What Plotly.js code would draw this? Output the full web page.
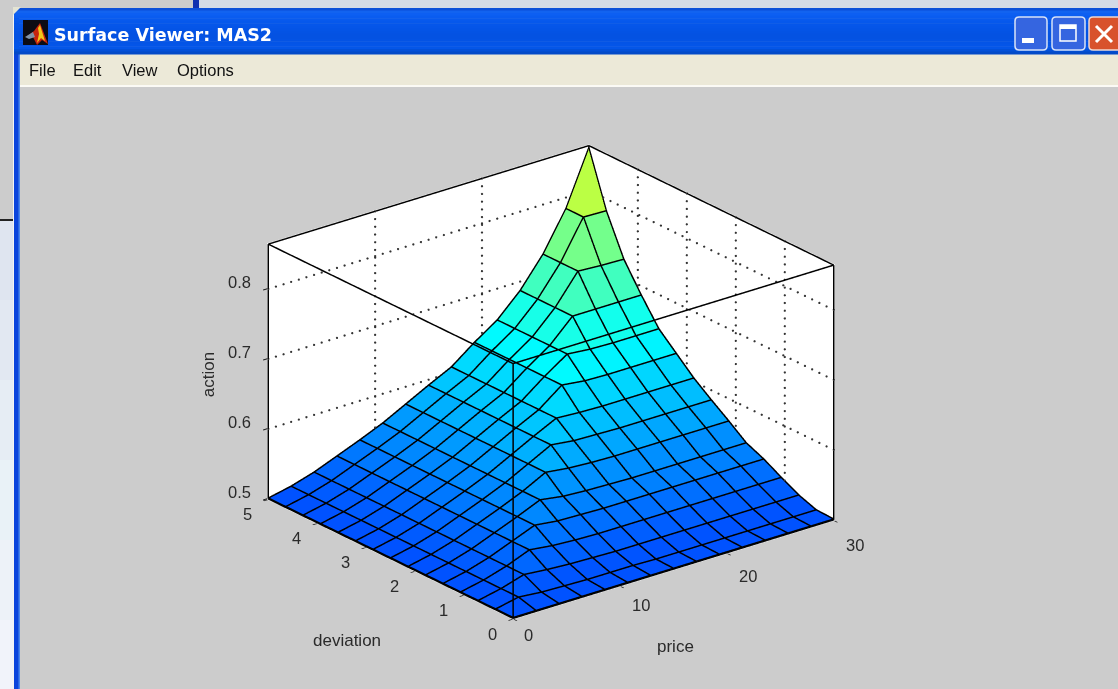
<!DOCTYPE html>
<html><head><meta charset="utf-8">
<script src="https://cdn.plot.ly/plotly-3.0.1.min.js"></script>
<style>html,body{margin:0;padding:0;background:#ccc;overflow:hidden}#g{width:1118px;height:689px}</style>
</head><body><div id="g"></div>
<script>
const price=[0,2.14,4.29,6.43,8.57,10.71,12.86,15,17.14,19.29,21.43,23.57,25.71,27.86,30];
const deviation=[0,.357,.714,1.071,1.429,1.786,2.143,2.5,2.857,3.214,3.571,3.929,4.286,4.643,5];
// action: rows = deviation, columns = price
const action=[
[.500,.500,.500,.500,.500,.500,.500,.500,.500,.500,.500,.500,.500,.500,.500],
[.500,.507,.504,.503,.502,.502,.502,.501,.501,.501,.501,.501,.501,.501,.501],
[.500,.507,.517,.514,.512,.511,.510,.510,.510,.510,.510,.510,.510,.510,.510],
[.500,.507,.517,.530,.526,.524,.523,.523,.523,.523,.523,.523,.523,.523,.523],
[.500,.507,.517,.530,.543,.539,.538,.537,.537,.537,.537,.537,.537,.537,.537],
[.500,.507,.517,.530,.543,.557,.552,.550,.549,.548,.548,.548,.548,.548,.548],
[.500,.507,.517,.530,.543,.557,.574,.570,.568,.567,.567,.567,.567,.567,.567],
[.500,.507,.517,.530,.543,.557,.574,.591,.587,.586,.585,.585,.585,.585,.585],
[.500,.507,.517,.530,.543,.557,.574,.591,.607,.605,.604,.604,.604,.604,.604],
[.500,.507,.517,.530,.543,.557,.574,.591,.607,.632,.628,.627,.627,.627,.627],
[.500,.507,.517,.530,.543,.557,.574,.591,.607,.632,.654,.651,.650,.650,.650],
[.500,.507,.517,.530,.543,.557,.574,.591,.607,.632,.654,.686,.686,.686,.686],
[.500,.507,.517,.530,.543,.557,.574,.591,.607,.632,.654,.686,.728,.726,.725],
[.500,.507,.517,.530,.543,.557,.574,.591,.607,.632,.654,.686,.728,.783,.782],
[.500,.507,.517,.530,.543,.557,.574,.591,.607,.632,.654,.686,.728,.783,.860]];
const priceTicks=[0,10,20,30], deviationTicks=[0,1,2,3,4,5], actionTicks=[.5,.6,.7,.8];
const zMin=.5, zMax=.864;

function jet(v){ // MATLAB jet ramp
  const c=t=>Math.max(0,Math.min(1,t));
  return 'rgb('+[c(1.5-Math.abs(4*v-3)),c(1.5-Math.abs(4*v-2)),c(1.5-Math.abs(4*v-1))].map(q=>Math.round(q*255)).join(',')+')';
}
const colourLow=.205, colourHigh=.66;
const n=price.length;
const vx=[],vy=[],vz=[],I=[],J=[],K=[],FC=[];
for(let r=0;r<n;r++)for(let c=0;c<n;c++){vx.push(price[c]);vy.push(deviation[r]);vz.push(action[r][c]);}
for(let r=0;r<n-1;r++)for(let c=0;c<n-1;c++){
  const a=r*n+c,b=a+1,d=a+n,e=d+1;
  const col=jet(colourLow+(action[r][c]-zMin)/(zMax-zMin)*(colourHigh-colourLow));
  I.push(a,a);J.push(b,e);K.push(e,d);FC.push(col,col);
}
const lx=[],ly=[],lz=[];
const lift=.0012;
for(let r=0;r<n;r++){for(let c=0;c<n;c++){lx.push(price[c]);ly.push(deviation[r]);lz.push(action[r][c]+lift);}lx.push(null);ly.push(null);lz.push(null);}
for(let c=0;c<n;c++){for(let r=0;r<n;r++){lx.push(price[c]);ly.push(deviation[r]);lz.push(action[r][c]+lift);}lx.push(null);ly.push(null);lz.push(null);}

// box edges
const bx=[],by=[],bz=[];
function seg(a,b,arrX,arrY,arrZ){arrX.push(a[0],b[0],null);arrY.push(a[1],b[1],null);arrZ.push(a[2],b[2],null);}
const X1=30,Y1=5;
[[[0,0,zMax],[X1,0,zMax]],[[0,0,zMax],[0,Y1,zMax]],[[X1,0,zMax],[X1,Y1,zMax]],[[0,Y1,zMax],[X1,Y1,zMax]],
 [[0,0,zMin],[0,0,zMax]],[[X1,0,zMin],[X1,0,zMax]],[[0,Y1,zMin],[0,Y1,zMax]],[[X1,Y1,zMin],[X1,Y1,zMax]],
 [[0,0,zMin],[X1,0,zMin]],[[0,0,zMin],[0,Y1,zMin]]].forEach(s=>seg(s[0],s[1],bx,by,bz));

// dotted grid on the back walls, one small marker per dot
const gx=[],gy=[],gz=[];
function dots(a,b,count){for(let k=0;k<=count;k++){const t=k/count;gx.push(a[0]+(b[0]-a[0])*t);gy.push(a[1]+(b[1]-a[1])*t);gz.push(a[2]+(b[2]-a[2])*t);}}
priceTicks.slice(1,-1).forEach(p=>dots([p,Y1,zMin],[p,Y1,zMax],33));
deviationTicks.slice(1,-1).forEach(d=>dots([X1,d,zMin],[X1,d,zMax],33));
actionTicks.slice(1).forEach(a=>{dots([0,Y1,a],[X1,Y1,a],42);dots([X1,0,a],[X1,Y1,a],34);});

const W=1118,H=689;
const px=x=>x/W, py=y=>1-y/H;
function rect(x0,y0,x1,y1,fill,layer){return {type:'rect',xref:'paper',yref:'paper',x0:px(x0),x1:px(x1),y0:py(y0),y1:py(y1),fillcolor:fill,line:{width:0},layer:layer||'below'};}
function pathShape(pts,fill){return {type:'path',xref:'paper',yref:'paper',path:'M'+pts.map(p=>px(p[0])+','+py(p[1])).join('L')+'Z',fillcolor:fill,line:{width:0},layer:'below'};}
function rounded(x0,y0,x1,y1,r,fill,lineCol,lw){
  const P=(x,y)=>px(x)+','+py(y);
  return {type:'path',xref:'paper',yref:'paper',layer:'above',fillcolor:fill,line:{color:lineCol,width:lw},
   path:'M'+P(x0+r,y0)+'L'+P(x1-r,y0)+'Q'+P(x1,y0)+' '+P(x1,y0+r)+'L'+P(x1,y1-r)+'Q'+P(x1,y1)+' '+P(x1-r,y1)+'L'+P(x0+r,y1)+'Q'+P(x0,y1)+' '+P(x0,y1-r)+'L'+P(x0,y0+r)+'Q'+P(x0,y0)+' '+P(x0+r,y0)+'Z'};
}
const titleBarColours=['#0b4fd8','#1263f0','#0d5ff2','#0a5cf0','#085aee','#0658ec','#0556ea','#0555e8','#0454e6','#0453e4','#0452e2','#0452e2','#0453e4','#0454e6','#0455e8','#0456e8','#0350d8','#034ac8'];
const leftStrip=[[221,300,'#dfe5f0'],[300,380,'#e2e8f2'],[380,460,'#e6edf4'],[460,540,'#e9f2f7'],[540,620,'#edf2f8'],[620,689,'#f1f3fa']];
const shapes=[
 rect(0,0,193,8,'#cccccc'),rect(193,0,199,8,'#1030b0'),rect(199,0,1118,8,'#d4dae6'),
 rect(0,8,13,220,'#cccccc'),rect(0,219,13,221,'#222222'),
 rect(13,8,14,689,'#f4f4f4'),rect(14,8,19,689,'#0a44dc'),rect(18.5,54,20,689,'#4a86ea'),rect(20,54,1118,86,'#ece9d8'),rect(20,85,1118,87,'#fbfaf5')
];
leftStrip.forEach(s=>shapes.push(rect(0,s[0],13,s[1],s[2])));
titleBarColours.forEach((c,i)=>{const h=(54-8)/titleBarColours.length;shapes.push(rect(14,8+i*h,1118,8+(i+1)*h+.5,c));});
shapes.push(pathShape([[13,7],[21,7],[13,15]],'#e4e4d4'));
// window icon
shapes.push(rect(23,20,48,45,'#0c0c14'));
shapes.push(pathShape([[26,37],[34,31],[40,23],[48,44],[42,40],[37,45],[33,37]],'#c8240e'));
shapes.push(pathShape([[38,28],[40,25],[45,41],[41,38],[37,43],[39,34]],'#f2c81a'));
shapes.push(pathShape([[25,37],[33,32],[35,37],[29,39]],'#7f93a8'));
// caption buttons
shapes.push(rounded(1015,17,1047,50,4,'#3565e0','#d8e2f8',1.5),rounded(1052,17,1085,50,4,'#3565e0','#d8e2f8',1.5),rounded(1089,17,1124,50,4,'#d8522c','#f0d8d0',1.5));
shapes.push(rect(1022,38,1034,43,'#ffffff','above'));
shapes.push({type:'rect',xref:'paper',yref:'paper',x0:px(1060),x1:px(1076),y0:py(25),y1:py(41),fillcolor:'rgba(0,0,0,0)',line:{color:'#ffffff',width:1.5},layer:'above'});
shapes.push(rect(1060,25,1076,29,'#ffffff','above'));
shapes.push({type:'path',xref:'paper',yref:'paper',path:'M'+px(1096)+','+py(26)+'L'+px(1112)+','+py(42)+'M'+px(1112)+','+py(26)+'L'+px(1096)+','+py(42),line:{color:'#ffffff',width:3},layer:'above'});

const menus=[['File',27],['Edit',71],['View',120],['Options',175]];
const chromeText=menus.map(m=>({xref:'paper',yref:'paper',x:px(m[1]),y:py(70),xanchor:'left',yanchor:'middle',showarrow:false,text:m[0],font:{family:'Liberation Sans, Arial',size:16.5,color:'#111'}}));
chromeText.push({xref:'paper',yref:'paper',x:px(52),y:py(35),xanchor:'left',yanchor:'middle',showarrow:false,text:'<b>Surface Viewer: MAS2</b>',font:{family:'DejaVu Sans, Verdana',size:17.5,color:'#fff'}});

const tickFont={family:'Liberation Sans, Arial',size:16.5,color:'#2a2a2a'};
const labelFont={family:'Liberation Sans, Arial',size:17,color:'#2a2a2a'};
const priceLabelDrop={0:-17,10:-20,20:-24,30:-26};
const sceneNotes=[];
priceTicks.forEach(p=>sceneNotes.push({x:p,y:0,z:zMin,text:String(p),showarrow:false,xanchor:'center',yanchor:'middle',xshift:p===0?15:21,yshift:priceLabelDrop[p],font:tickFont}));
deviationTicks.forEach(d=>sceneNotes.push({x:0,y:d,z:zMin,text:String(d),showarrow:false,xanchor:'center',yanchor:'middle',xshift:-21,yshift:-16,font:tickFont}));
actionTicks.forEach(a=>sceneNotes.push({x:0,y:Y1,z:a,text:a.toFixed(1),showarrow:false,xanchor:'center',yanchor:'middle',xshift:-29,yshift:6,font:tickFont}));
sceneNotes.push({x:15,y:0,z:zMin,text:'price',showarrow:false,xshift:2,yshift:-78,font:labelFont});
sceneNotes.push({x:0,y:2.5,z:zMin,text:'deviation',showarrow:false,xshift:-44,yshift:-82,font:labelFont});
sceneNotes.push({x:0,y:Y1,z:.675,text:'action',showarrow:false,xshift:-59,yshift:1,textangle:-90,font:labelFont});

const hiddenAxis={showgrid:false,zeroline:false,showline:false,showticklabels:false,ticks:'outside',ticklen:5,tickcolor:'#111',tickwidth:2,showbackground:true,backgroundcolor:'#fff',title:{text:''},showspikes:false};
const traces=[
 {type:'mesh3d',x:vx,y:vy,z:vz,i:I,j:J,k:K,facecolor:FC,flatshading:true,lighting:{ambient:1,diffuse:0,specular:0,roughness:1,fresnel:0},showscale:false,hoverinfo:'skip'},
 {type:'scatter3d',mode:'lines',x:lx,y:ly,z:lz,line:{color:'#000',width:3},hoverinfo:'skip',showlegend:false},
 {type:'scatter3d',mode:'lines',x:bx,y:by,z:bz,line:{color:'#000',width:3},hoverinfo:'skip',showlegend:false},
 {type:'scatter3d',mode:'markers',x:gx,y:gy,z:gz,marker:{color:'#333',size:1.3,line:{width:0}},hoverinfo:'skip',showlegend:false}
];
const layout={width:W,height:H,margin:{l:0,r:0,t:0,b:0},paper_bgcolor:'#cccccc',showlegend:false,shapes:shapes,annotations:chromeText,
 scene:{domain:{x:[(551-500)/W,(551+500)/W],y:[1-(381.5+290)/H,1-(381.5-290)/H]},bgcolor:'rgba(0,0,0,0)',
  aspectmode:'manual',aspectratio:{x:1.417,y:1.365,z:.958},
  camera:{projection:{type:'orthographic'},center:{x:0,y:0,z:0},up:{x:0,y:0,z:1},eye:{x:-.573*1.6,y:-.722*1.6,z:.387*1.6}},
  xaxis:Object.assign({},hiddenAxis,{range:[-.06,30.06],tickvals:priceTicks}),
  yaxis:Object.assign({},hiddenAxis,{range:[-.012,5.012],tickvals:deviationTicks}),
  zaxis:Object.assign({},hiddenAxis,{range:[zMin-.001,zMax+.001],tickvals:actionTicks}),
  annotations:sceneNotes}};
Plotly.newPlot('g',traces,layout,{displayModeBar:false});
</script></body></html>
